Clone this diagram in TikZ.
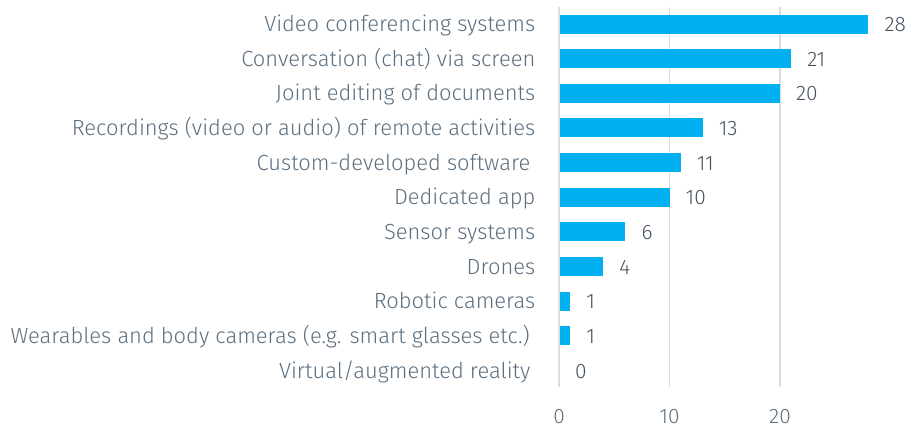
\documentclass[tikz,border=0pt]{standalone}
\usepackage{fontspec}
\setmainfont{Fira Sans Light}
\definecolor{bar}{HTML}{00B0F0}
\definecolor{grid}{HTML}{D6DEE4}
\definecolor{lab}{HTML}{5B6F80}
\definecolor{val}{HTML}{44525E}
\begin{document}
\begin{tikzpicture}[x=1bp,y=-1bp,
  catlab/.style={anchor=base east,inner sep=0pt,text=lab,font=\fontsize{22}{24}\selectfont},
  vallab/.style={anchor=base west,inner sep=0pt,text=val,font=\fontsize{21}{24}\selectfont},
  ticklab/.style={anchor=base,inner sep=0pt,text=lab,font=\fontsize{21}{24}\selectfont},
  gridline/.style={draw=grid,line width=1.5bp},
  barbox/.style={fill=bar,draw=none}]
\useasboundingbox (0,0) rectangle (910,427);
\foreach \v in {0,10,20}{
  \draw[gridline] ({559+11.05*\v},7) -- ({559+11.05*\v},387);
  \node[ticklab] (t\v) at ({559+11.05*\v},423) {\v};
}
\foreach \name/\v/\i/\rx in {
  {Video conferencing systems}/28/0/535.5,
  {Conversation (chat) via screen}/21/1/535.5,
  {Joint editing of documents}/20/2/535.5,
  {Recordings (video or audio) of remote activities}/13/3/535.5,
  {Custom-developed software}/11/4/530.5,
  {Dedicated app}/10/5/535.5,
  {Sensor systems}/6/6/535.5,
  {Drones}/4/7/535.5,
  {Robotic cameras}/1/8/535.5,
  {Wearables and body cameras (e.g. smart glasses etc.)}/1/9/530,
  {Virtual/augmented reality}/0/10/530.5}{
  \pgfmathsetmacro{\cy}{24+34.65*\i}
  \ifnum\v>0
    \fill[barbox] (559.5,\cy-9.5) rectangle ({559+11.05*\v},\cy+9.5);
  \fi
  \node[catlab] (c\i) at (\rx,\cy+7.5) {\name};
  \node[vallab] (v\i) at ({559+11.05*\v+16},\cy+7.5) {\v};
}
\end{tikzpicture}
\end{document}
